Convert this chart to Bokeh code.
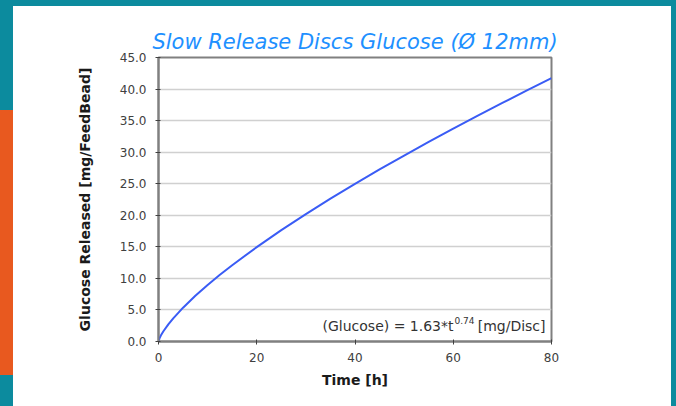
from bokeh.plotting import figure
from bokeh.models import Range1d, FixedTicker, PrintfTickFormatter, Label, Title
from bokeh.embed import file_html
from bokeh.resources import INLINE

# ---- data ----
time_h = [0, 0.2, 0.5, 1, 2, 3, 5, 7.5, 10, 12.5, 15, 20, 25, 30, 35, 40, 45,
          50, 55, 60, 65, 70, 75, 80]
glucose = [0, 0.50, 0.98, 1.63, 2.72, 3.67, 5.36, 7.24, 8.96, 10.57, 12.09,
           14.96, 17.65, 20.19, 22.64, 24.99, 27.26, 29.47, 31.62, 33.73,
           35.79, 37.80, 39.79, 41.73]
x_ticks = [0, 20, 40, 60, 80]
y_ticks = [0, 5, 10, 15, 20, 25, 30, 35, 40, 45]

title_text = "Slow Release Discs Glucose (\u00d8 12mm)"
x_title = "Time [h]"
y_title = "Glucose Released [mg/FeedBead]"
eq_main = "(Glucose) = 1.63*t"
eq_sup = "0.74"
eq_unit = "[mg/Disc]"

FONT = "DejaVu Sans"
GRAY = "#808080"

p = figure(width=676, height=406, output_backend="svg", toolbar_location=None,
           x_range=Range1d(0, 80), y_range=Range1d(0, 45),
           min_border_left=158, min_border_right=125,
           min_border_top=57, min_border_bottom=65)
p.border_fill_alpha = 0
p.background_fill_color = "white"
p.outline_line_color = GRAY
p.outline_line_width = 2

p.line(time_h, glucose, line_color="#3A5CF5", line_width=2)

# axes
for ax in (p.xaxis[0], p.yaxis[0]):
    ax.axis_line_color = GRAY
    ax.axis_line_width = 2
    ax.major_tick_line_color = "#404040"
    ax.major_tick_in = 2
    ax.major_tick_out = 3
    ax.minor_tick_line_color = None
    ax.major_label_text_font = FONT
    ax.major_label_text_font_size = "12px"
    ax.major_label_text_color = "#404040"
    ax.axis_label_text_font = FONT
    ax.axis_label_text_font_style = "bold"
    ax.axis_label_text_font_size = "14px"
    ax.axis_label_text_color = "#1a1a1a"

p.xaxis.ticker = FixedTicker(ticks=x_ticks)
p.yaxis.ticker = FixedTicker(ticks=y_ticks)
p.yaxis.formatter = PrintfTickFormatter(format="%.1f")
p.xaxis.axis_label = x_title
p.yaxis.axis_label = y_title
p.xaxis.major_label_standoff = 8
p.yaxis.major_label_standoff = 9
p.xaxis.axis_label_standoff = 7
p.yaxis.axis_label_standoff = 24

p.xgrid.grid_line_color = None
p.ygrid.grid_line_color = "#D0D0D0"
p.ygrid.grid_line_width = 1.5

# title
p.add_layout(Title(text=title_text, align="center", text_font=FONT,
                   text_font_style="italic", text_font_size="21px",
                   text_color="#1E90FF", standoff=8), "above")

# equation annotation
p.add_layout(Label(x=80, y=0, text=eq_unit, text_align="right",
                   text_baseline="middle", x_offset=-6, y_offset=16,
                   text_font=FONT, text_font_size="14px", text_color="#333333"))
p.add_layout(Label(x=80, y=0, text=eq_sup, text_align="right",
                   text_baseline="middle", x_offset=-77, y_offset=21,
                   text_font=FONT, text_font_size="9px", text_color="#333333"))
p.add_layout(Label(x=80, y=0, text=eq_main, text_align="right",
                   text_baseline="middle", x_offset=-98, y_offset=16,
                   text_font=FONT, text_font_size="14px", text_color="#333333"))

html = file_html(p, INLINE)
css = ("<style>body{background:"
       "linear-gradient(#ffffff,#ffffff) 13px 6px/658px 400px no-repeat,"
       "linear-gradient(#E8591F,#E8591F) 0 110px/13px 265px no-repeat,"
       "#0C8B9E;}</style>")
html = html.replace("</head>", css + "</head>", 1)
open("out.html", "w").write(html)
